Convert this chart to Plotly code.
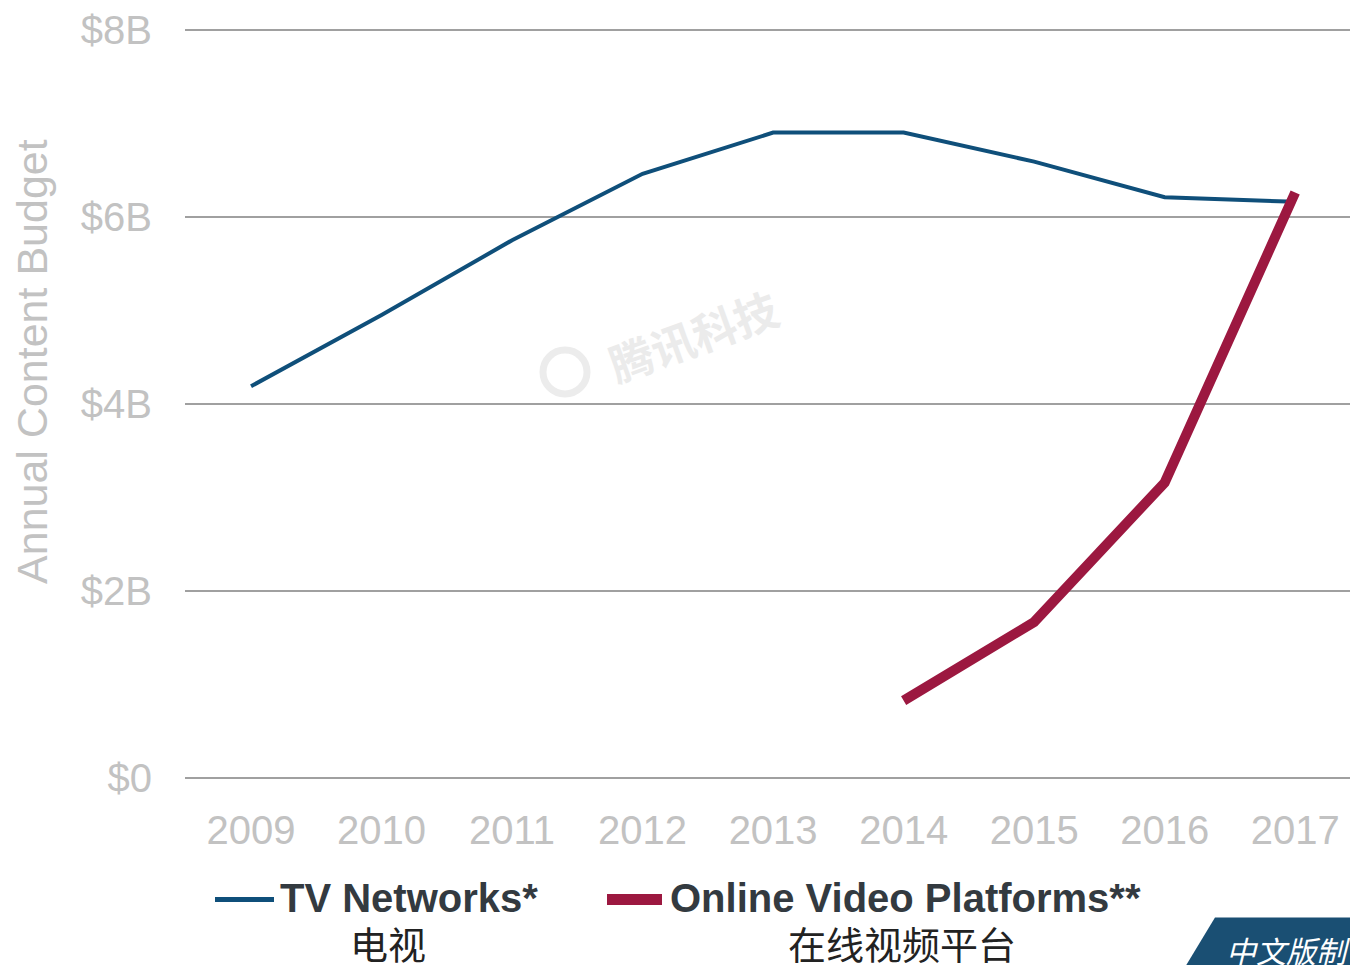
import plotly.graph_objects as go

years = [2009, 2010, 2011, 2012, 2013, 2014, 2015, 2016, 2017]
tv_networks = [4.19, 4.95, 5.75, 6.46, 6.90, 6.90, 6.59, 6.21, 6.16]
online_years = [2014, 2015, 2016, 2017]
online_platforms = [0.83, 1.67, 3.16, 6.26]
y_ticks = [0, 2, 4, 6, 8]
y_tick_labels = ["$0", "$2B", "$4B", "$6B", "$8B"]

TV_COLOR = "#0f4f7a"
OVP_COLOR = "#9c1840"
TICK_COLOR = "#c2c2c2"
TEXT_DARK = "#333a40"
FONT = "Liberation Sans, Arial, sans-serif"
CJK = "Noto Sans CJK SC, sans-serif"

PLOT_L, PLOT_R = 185, 1350          # px
Y0_PX, Y8_PX = 778, 30              # px of 0 and 8
PAD = 0.05                           # range padding (units) so edge gridlines show
UNIT = (Y0_PX - Y8_PX) / 8.0
PLOT_T = Y8_PX - PAD * UNIT
PLOT_B = Y0_PX + PAD * UNIT
W, H = 1350, 965

fig = go.Figure()
fig.add_trace(go.Scatter(x=years, y=tv_networks, mode="lines",
                         line=dict(color=TV_COLOR, width=4), showlegend=False))
fig.add_trace(go.Scatter(x=online_years, y=online_platforms, mode="lines",
                         line=dict(color=OVP_COLOR, width=10), showlegend=False))

fig.update_layout(
    width=W, height=H,
    margin=dict(l=PLOT_L, r=W - PLOT_R, t=PLOT_T, b=H - PLOT_B, pad=0),
    plot_bgcolor="white", paper_bgcolor="white",
    font=dict(family=FONT),
    xaxis=dict(range=[2008.494, 2017.42], tickmode="array", tickvals=years,
               ticktext=[str(y) for y in years], showgrid=False, zeroline=False,
               showline=False, ticks="", ticklabelstandoff=20, ticklabeloverflow="allow",
               tickfont=dict(size=40, color=TICK_COLOR, family=FONT)),
    yaxis=dict(range=[-PAD, 8 + PAD], tickmode="array", tickvals=y_ticks, ticktext=y_tick_labels,
               showgrid=True, gridcolor="#a0a0a0", gridwidth=2, zeroline=False,
               showline=False, ticks="", ticklabelstandoff=32, ticklabeloverflow="allow",
               tickfont=dict(size=40, color=TICK_COLOR, family=FONT)),
)


def px(wx):
    return (wx - PLOT_L) / (PLOT_R - PLOT_L)


def py(wy):
    return (PLOT_B - wy) / (PLOT_B - PLOT_T)


# y-axis title
fig.add_annotation(xref="paper", yref="paper", x=px(32), y=py(362),
                   text="Annual Content Budget", showarrow=False, textangle=-90,
                   xanchor="center", yanchor="middle",
                   font=dict(size=43, color=TICK_COLOR, family=FONT))

# watermark
fig.add_shape(type="circle", xref="paper", yref="paper",
              x0=px(543), x1=px(587), y0=py(394), y1=py(350),
              line=dict(color="#ececec", width=7))
fig.add_annotation(xref="paper", yref="paper", x=px(693), y=py(335),
                   text="<b>腾讯科技</b>", showarrow=False, textangle=-20,
                   font=dict(size=44, color="#ebebeb", family=CJK))

# legend
fig.add_shape(type="line", xref="paper", yref="paper", x0=px(215), x1=px(274),
              y0=py(899), y1=py(899), line=dict(color=TV_COLOR, width=5))
fig.add_shape(type="line", xref="paper", yref="paper", x0=px(607), x1=px(662),
              y0=py(899), y1=py(899), line=dict(color=OVP_COLOR, width=11))
fig.add_annotation(xref="paper", yref="paper", x=px(278), y=py(898), text="<b>TV Networks*</b>",
                   showarrow=False, xanchor="left", yanchor="middle",
                   font=dict(size=40, color=TEXT_DARK, family=FONT))
fig.add_annotation(xref="paper", yref="paper", x=px(388), y=py(942), text="电视",
                   showarrow=False, xanchor="center", yanchor="middle",
                   font=dict(size=38, color="#222222", family=CJK))
fig.add_annotation(xref="paper", yref="paper", x=px(668), y=py(898),
                   text="<b>Online Video Platforms**</b>",
                   showarrow=False, xanchor="left", yanchor="middle",
                   font=dict(size=40, color=TEXT_DARK, family=FONT))
fig.add_annotation(xref="paper", yref="paper", x=px(902), y=py(942), text="在线视频平台",
                   showarrow=False, xanchor="center", yanchor="middle",
                   font=dict(size=38, color="#222222", family=CJK))

# corner banner
fig.add_shape(type="path", xref="paper", yref="paper",
              path=(f"M {px(1186)} {py(965)} L {px(1215)} {py(917)} "
                    f"L {px(1350)} {py(917)} L {px(1350)} {py(965)} Z"),
              fillcolor="#1a4f73", line=dict(width=0))
fig.add_annotation(xref="paper", yref="paper", x=px(1224), y=py(950), text="<i>中文版制</i>",
                   showarrow=False, xanchor="left", yanchor="middle",
                   font=dict(size=30, color="white", family=CJK))

fig.write_html(
    "out.html",
    config={"displayModeBar": False},
    post_script="document.body.style.margin='0';document.body.style.overflow='hidden';",
)
